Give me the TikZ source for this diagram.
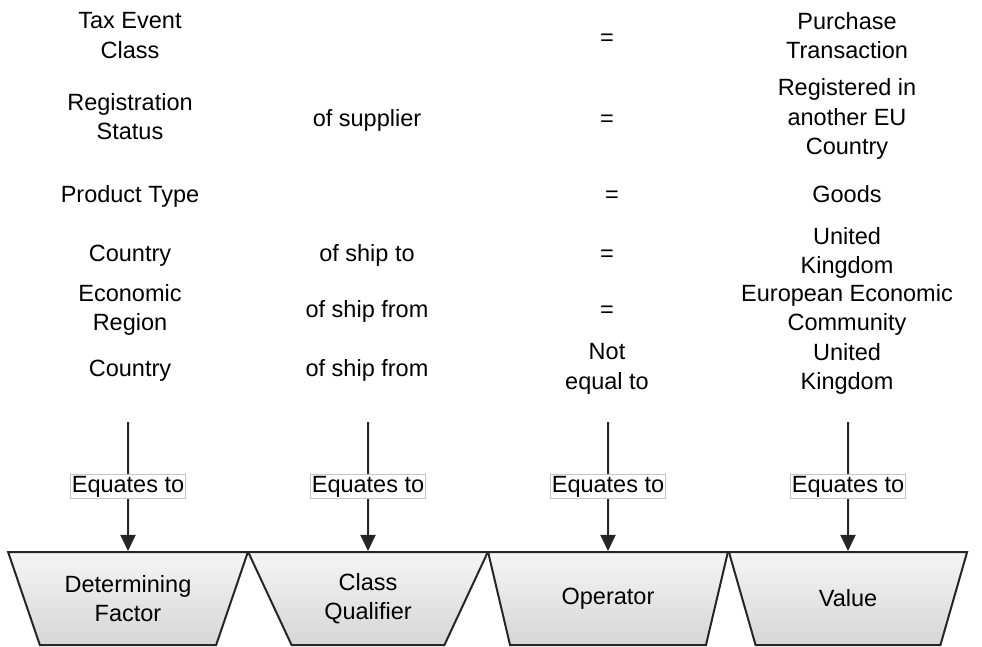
\documentclass[tikz,border=0pt]{standalone}
\usepackage{fontspec}
\setmainfont{Liberation Sans}
\usetikzlibrary{shapes.geometric,arrows.meta}

\begin{document}
\begin{tikzpicture}
[x=1pt,y=-1pt,
cell/.style={align=center,inner sep=0pt,yshift=-4pt,font=\fontsize{23.5}{29.5}\selectfont,
  execute at begin node=\strut,execute at end node=\strut},
funnel/.style={trapezium,trapezium angle=64,trapezium stretches=true,shape border rotate=180,
  minimum width=240pt,minimum height=93pt,inner sep=0pt,draw=black!85,line width=2pt,
  top color=gray!8,bottom color=gray!32,align=center,font=\fontsize{23.5}{29.5}\selectfont},
link/.style={draw=black!85,line width=2pt,-{Triangle[length=16pt,width=15pt]}},
eq/.style={draw=gray!45,line width=0.8pt,fill=white,inner sep=1.5pt,font=\fontsize{23.5}{29.5}\selectfont}]
\useasboundingbox (0,0) rectangle (982,647);
% determining factors
\node[cell] (f1) at (130,36) {Tax Event\\Class};
\node[cell] (f2) at (130,117) {Registration\\Status};
\node[cell] (f3) at (130,193) {Product Type};
\node[cell] (f4) at (130,252) {Country};
\node[cell] (f5) at (130,308) {Economic\\Region};
\node[cell] (f6) at (130,367) {Country};
% class qualifiers
\node[cell] (q2) at (367,117) {of supplier};
\node[cell] (q4) at (367,252) {of ship to};
\node[cell] (q5) at (367,308) {of ship from};
\node[cell] (q6) at (367,367) {of ship from};
% operators
\node[cell] (o1) at (607,36) {=};
\node[cell] (o2) at (607,117) {=};
\node[cell] (o3) at (612,193) {=};
\node[cell] (o4) at (607,252) {=};
\node[cell] (o5) at (607,308) {=};
\node[cell] (o6) at (607,367) {Not\\equal to};
% values
\node[cell] (v1) at (847,36) {Purchase\\Transaction};
\node[cell] (v2) at (847,117) {Registered in\\another EU\\Country};
\node[cell] (v3) at (847,193) {Goods};
\node[cell] (v4) at (847,251) {United\\Kingdom};
\node[cell] (v5) at (847,308) {European Economic\\Community};
\node[cell] (v6) at (847,367) {United\\Kingdom};
% funnels
\node[funnel] (factor) at (128,598.5) {Determining\\Factor};
\node[funnel] (qualifier) at (368,598.5) {Class\\Qualifier};
\node[funnel] (operator) at (608,598.5) {Operator};
\node[funnel] (value) at (848,598.5) {Value};
\coordinate (t1) at (128,422);
\coordinate (t2) at (368,422);
\coordinate (t3) at (608,422);
\coordinate (t4) at (848,422);
\path[link] (t1) -- node[eq] {Equates to} (factor.north);
\path[link] (t2) -- node[eq] {Equates to} (qualifier.north);
\path[link] (t3) -- node[eq] {Equates to} (operator.north);
\path[link] (t4) -- node[eq] {Equates to} (value.north);
\end{tikzpicture}
\end{document}
